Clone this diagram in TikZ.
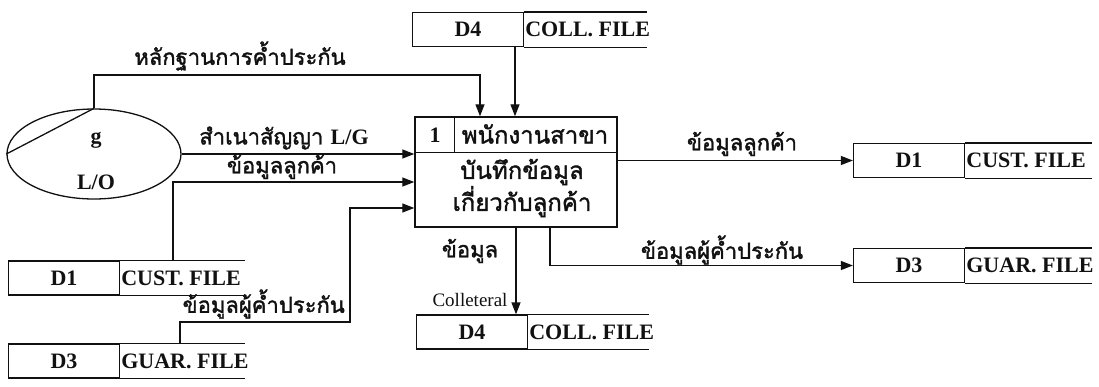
\documentclass[tikz,border=0pt]{standalone}
\usepackage{fontspec}
\setmainfont{Liberation Serif}
\newfontfamily\thaifont[Script=Thai,FakeBold=1.6]{Loma}
\usetikzlibrary{arrows.meta,calc,positioning,shapes.geometric}
\definecolor{dfink}{HTML}{111111}
\tikzset{
  storeid/.style={rectangle,draw=dfink,line width=1.3pt,minimum width=111pt,minimum height=34pt,inner sep=0pt,font=\fontsize{22}{24}\selectfont\bfseries,text=dfink},
  storename/.style={anchor=west,inner sep=1pt,font=\fontsize{22}{24}\selectfont\bfseries,text=dfink},
  storeline/.style={draw=dfink,line width=1.3pt},
  procbox/.style={rectangle,draw=dfink,line width=1.4pt,minimum width=202pt,minimum height=110pt},
  extent/.style={ellipse,draw=dfink,line width=1.3pt,minimum width=174pt,minimum height=90pt},
  flow/.style={-{Triangle[length=12pt,width=9pt]},draw=dfink,line width=1.3pt},
  thlbl/.style={font=\thaifont\fontsize{22}{24}\selectfont,text=dfink,inner sep=1pt},
  ltlbl/.style={font=\fontsize{22}{24}\selectfont\bfseries,text=dfink,inner sep=1pt},
}
\begin{document}
\begin{tikzpicture}[x=1pt,y=-1pt]
  \useasboundingbox (0,0) rectangle (1099,386);
  % external entity
  \node[extent] (ext) at (94,154) {};
  \draw[storeline] (ext.north) -- (ext.west);
  \node[ltlbl] (extg) at (96,140) {g};
  \node[ltlbl] (exto) at (96,182) {L/O};
  % process
  \node[procbox] (proc) at (516,172) {};
  \draw[storeline] ($(proc.north west)+(0,36)$) -- ($(proc.north east)+(0,36)$);
  \draw[storeline] ($(proc.north west)+(40,0)$) -- ($(proc.north west)+(40,36)$);
  \node[ltlbl] (pnum) at (435,135) {1};
  \node[thlbl,font=\thaifont\fontsize{24}{26}\selectfont] (prole) at (535,134) {พนักงานสาขา};
  \node[thlbl,align=center,font=\thaifont\fontsize{24}{30}\selectfont] (ptext) at (522,188) {บันทึกข้อมูล\\เกี่ยวกับลูกค้า};
  % data stores
  \node[storeid] (d4t) at (468,29.5) {D4};
  \node[storename] (d4tname) at (d4t.east) {COLL. FILE};
  \draw[storeline] (d4t.north east) -- ++(123,0) (d4t.south east) -- ++(123,0);
  \node[storeid] (d4b) at (472,332) {D4};
  \node[storename] (d4bname) at (d4b.east) {COLL. FILE};
  \draw[storeline] (d4b.north east) -- ++(121,0) (d4b.south east) -- ++(121,0);
  \node[storeid] (d1l) at (64,278) {D1};
  \node[storename] (d1lname) at (d1l.east) {CUST. FILE};
  \draw[storeline] (d1l.north east) -- ++(125,0) (d1l.south east) -- ++(125,0);
  \node[storeid] (d3l) at (64,361) {D3};
  \node[storename] (d3lname) at (d3l.east) {GUAR. FILE};
  \draw[storeline] (d3l.north east) -- ++(125,0) (d3l.south east) -- ++(125,0);
  \node[storeid] (d1r) at (909,160.5) {D1};
  \node[storename] (d1rname) at (d1r.east) {CUST. FILE};
  \draw[storeline] (d1r.north east) -- ++(127,0) (d1r.south east) -- ++(127,0);
  \node[storeid] (d3r) at (909,265.5) {D3};
  \node[storename] (d3rname) at (d3r.east) {GUAR. FILE};
  \draw[storeline] (d3r.north east) -- ++(127,0) (d3r.south east) -- ++(127,0);
  % bends
  \coordinate (evd) at (480,75);
  \coordinate (cst) at (173,182);
  \coordinate (gr1) at (180,322);
  \coordinate (gr2) at (350,208);
  \coordinate (gr3) at (550,0);
  \coordinate (cl4) at (515,0);
  % flows in
  \draw[flow] (ext.north) |- (evd) -- (evd |- proc.north);
  \draw[flow] (d4t.south -| cl4) -- (proc.north -| cl4);
  \draw[flow] (ext.east) -- (ext.east -| proc.west);
  \draw[flow] (cst |- d1l.north) -- (cst) -- (cst -| proc.west);
  \draw[flow] (gr1 |- d3l.north) -- (gr1) -| (gr2) -- (gr2 -| proc.west);
  % flows out
  \draw[flow] (proc.east |- d1r.west) -- (d1r.west);
  \draw[flow] (proc.south -| gr3) |- (d3r.west);
  \draw[flow] (proc.south) -- (proc.south |- d4b.north);
  % labels
  \node[thlbl] (levd) at (240,56) {หลักฐานการค้ำประกัน};
  \node[thlbl] (lcpy) at (284,138) {สำเนาสัญญา {\rmfamily\bfseries L/G}};
  \node[thlbl] (lcst) at (282,167) {ข้อมูลลูกค้า};
  \node[thlbl,anchor=east] (lgr) at (346,304) {ข้อมูลผู้ค้ำประกัน};
  \node[thlbl] (lcsto) at (742,144) {ข้อมูลลูกค้า};
  \node[thlbl] (lgro) at (722,250) {ข้อมูลผู้ค้ำประกัน};
  \node[thlbl] (lcol) at (470,251) {ข้อมูล};
  \node[font=\fontsize{19}{21}\selectfont,text=dfink,inner sep=1pt] (lcolen) at (470,300) {Colleteral};
\end{tikzpicture}
\end{document}
